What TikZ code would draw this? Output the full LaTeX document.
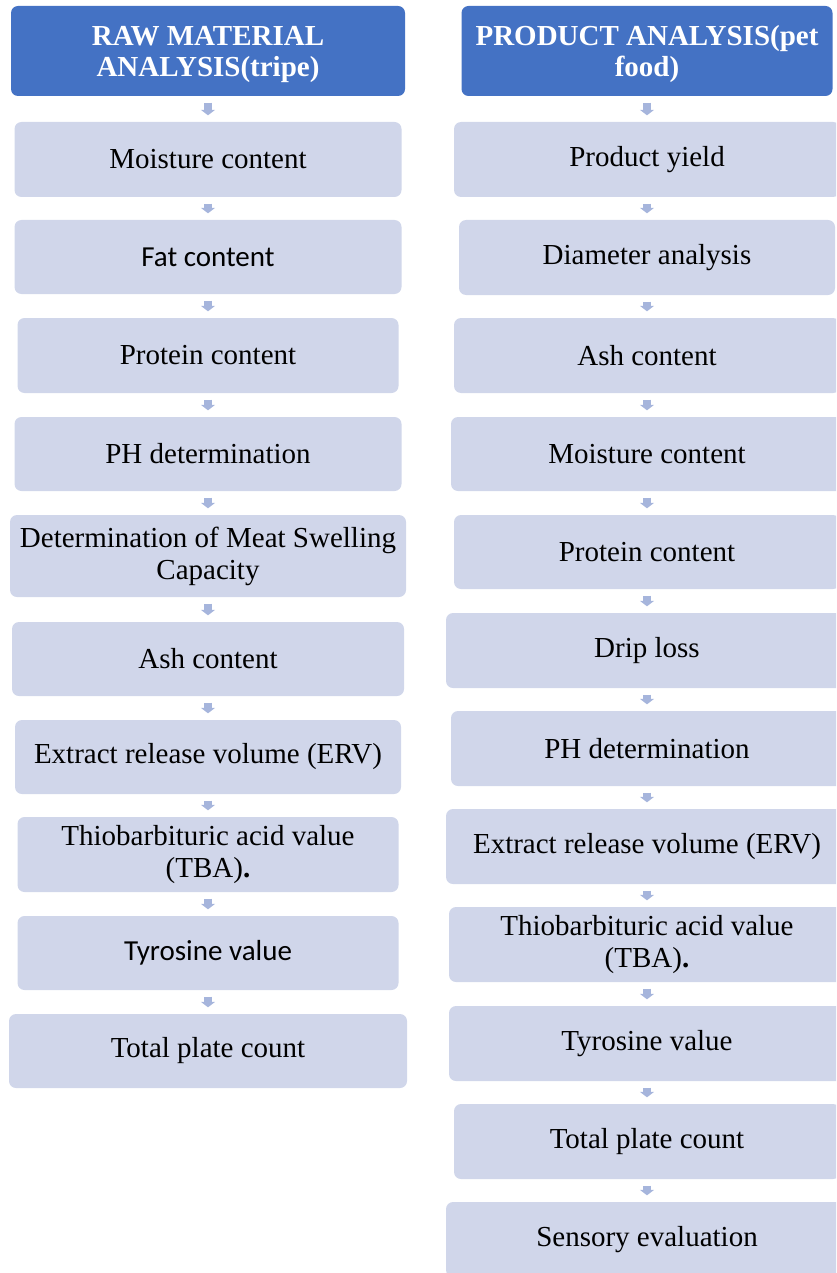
\documentclass[tikz,border=0pt]{standalone}
\usepackage{fontspec}
\setmainfont{Liberation Serif}
\newfontfamily\calib{Carlito}
\usetikzlibrary{arrows.meta}
\definecolor{headblue}{RGB}{68,114,196}
\definecolor{boxfill}{RGB}{208,214,234}
\definecolor{arrowc}{RGB}{166,181,220}
\newcommand{\hstrut}{\rule{0pt}{26pt}}
\tikzset{
  box/.style={draw=none, fill=boxfill, rounded corners=7pt, inner sep=0pt, align=center,
    font=\fontsize{29}{32}\selectfont, text=black},
  head/.style={box, fill=headblue, text=white, font=\fontsize{29}{31}\selectfont\bfseries},
  conn/.style={draw=arrowc, line width=8pt, line cap=butt,
    -{Triangle[width=14pt,length=5.5pt]}, shorten <=6.5pt, shorten >=6.5pt}
}
\begin{document}
\begin{tikzpicture}[x=1pt,y=-1pt]
\path[use as bounding box, clip] (0,0) rectangle (836,1273);
% left column
\node[head, minimum width=394pt, minimum height=90pt] (L0) at (208,51) {\hstrut RAW MATERIAL\\ANALYSIS(tripe)};
\node[box, minimum width=387pt, minimum height=75pt] (L1) at (208,159.5) {Moisture content};
\node[box, minimum width=387pt, minimum height=74pt, font=\fontsize{29}{32}\calib] (L2) at (208,257) {Fat content};
\node[box, minimum width=381pt, minimum height=75pt] (L3) at (208,355.5) {Protein content};
\node[box, minimum width=387pt, minimum height=74pt] (L4) at (208,454) {PH determination};
\node[box, minimum width=396pt, minimum height=82pt] (L5) at (208,556) {Determination of Meat Swelling\\Capacity};
\node[box, minimum width=392pt, minimum height=74pt] (L6) at (208,659) {Ash content};
\node[box, minimum width=386pt, minimum height=74pt] (L7) at (208,757) {Extract release volume (ERV)};
\node[box, minimum width=381pt, minimum height=75pt] (L8) at (208,854.5) {Thiobarbituric acid value\\(TBA)\textbf{.}};
\node[box, minimum width=381pt, minimum height=74pt, font=\fontsize{29}{32}\calib] (L9) at (208,953) {Tyrosine value};
\node[box, minimum width=398pt, minimum height=74pt] (L10) at (208,1051) {Total plate count};
% right column
\node[head, minimum width=371pt, minimum height=90pt] (R0) at (647,51) {\hstrut PRODUCT ANALYSIS(pet\\food)};
\node[box, minimum width=386pt, minimum height=75pt] (R1) at (647,159.5) {Product yield};
\node[box, minimum width=376pt, minimum height=75pt] (R2) at (647,257.5) {Diameter analysis};
\node[box, minimum width=386pt, minimum height=75pt] (R3) at (647,355.5) {Ash content};
\node[box, minimum width=392pt, minimum height=74pt] (R4) at (647,454) {Moisture content};
\node[box, minimum width=386pt, minimum height=74pt] (R5) at (647,552) {Protein content};
\node[box, minimum width=402pt, minimum height=75pt] (R6) at (647,650.5) {Drip loss};
\node[box, minimum width=392pt, minimum height=75pt] (R7) at (647,748.5) {PH determination};
\node[box, minimum width=402pt, minimum height=75pt] (R8) at (647,846.5) {Extract release volume (ERV)};
\node[box, minimum width=396pt, minimum height=75pt] (R9) at (647,944.5) {Thiobarbituric acid value\\(TBA)\textbf{.}};
\node[box, minimum width=396pt, minimum height=75pt] (R10) at (647,1043.5) {Tyrosine value};
\node[box, minimum width=386pt, minimum height=75pt] (R11) at (647,1141.5) {Total plate count};
\node[box, minimum width=402pt, minimum height=75pt] (R12) at (647,1239.5) {Sensory evaluation};
% connectors
\foreach \a/\b in {L0/L1,L1/L2,L2/L3,L3/L4,L4/L5,L5/L6,L6/L7,L7/L8,L8/L9,L9/L10,
  R0/R1,R1/R2,R2/R3,R3/R4,R4/R5,R5/R6,R6/R7,R7/R8,R8/R9,R9/R10,R10/R11,R11/R12}
  \draw[conn] (\a) -- (\b);
\end{tikzpicture}
\end{document}
